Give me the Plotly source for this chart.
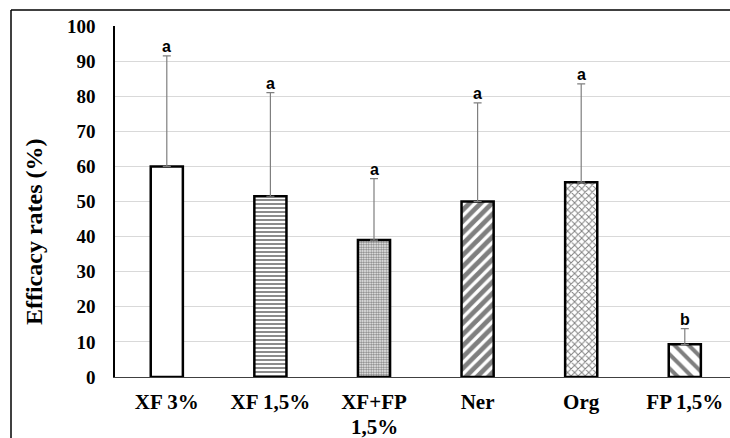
import plotly.graph_objects as go

categories = ["XF 3%", "XF 1,5%", "XF+FP 1,5%", "Ner", "Org", "FP 1,5%"]
tick_line1 = ["XF 3%", "XF 1,5%", "XF+FP", "Ner", "Org", "FP 1,5%"]
tick_line2 = ["", "", "1,5%", "", "", ""]
values = [60, 51.5, 39, 50, 55.5, 9.3]
error_plus = [31.5, 29.5, 17.5, 28.1, 28.0, 4.5]
letters = ["a", "a", "a", "a", "a", "b"]
y_ticks = [0, 10, 20, 30, 40, 50, 60, 70, 80, 90, 100]

pattern_shapes = ["", "-", ".", "/", "x", "\\"]
pattern_sizes = [8, 4, 2.5, 8, 5, 10]
pattern_solid = [0.2, 0.45, 0.55, 0.6, 0.35, 0.4]

x_pos = list(range(len(categories)))
SERIF = "Liberation Serif"

fig = go.Figure()
fig.add_trace(go.Bar(
    x=x_pos,
    y=values,
    width=0.31,
    name="Efficacy",
    hovertext=categories,
    marker=dict(
        color="white",
        line=dict(color="black", width=2.5),
        pattern=dict(shape=pattern_shapes, size=pattern_sizes, solidity=pattern_solid,
                     fgcolor="black", bgcolor="white", fillmode="overlay"),
    ),
    error_y=dict(type="data", array=error_plus, arrayminus=[0] * len(values), symmetric=False,
                 color="#7f7f7f", thickness=1.2, width=4),
    showlegend=False,
))

for xi, v, e, letter in zip(x_pos, values, error_plus, letters):
    fig.add_annotation(x=xi, y=v + e, text="<b>" + letter + "</b>", showarrow=False,
                       yanchor="bottom", yshift=-1,
                       font=dict(family="Liberation Sans", size=16, color="black"))

# second line of multi-line category labels
for xi, t in zip(x_pos, tick_line2):
    if t:
        fig.add_annotation(x=xi, xref="x", yref="paper", y=-0.1425, text="<b>" + t + "</b>",
                           showarrow=False, yanchor="middle",
                           font=dict(family=SERIF, size=21, color="black"))

fig.add_annotation(xref="paper", yref="paper", x=-0.1317, y=0.413, text="<b>Efficacy rates (%)</b>",
                   textangle=-90, showarrow=False, xanchor="center", yanchor="middle",
                   font=dict(family=SERIF, size=24, color="black"))

# outer frame (left and top edges)
fig.add_shape(type="line", xref="paper", yref="paper", x0=-0.1691, x1=-0.1691, y0=-0.3, y1=1.0456,
              line=dict(color="black", width=1.5))
fig.add_shape(type="line", xref="paper", yref="paper", x0=-0.1691, x1=1.1, y0=1.0456, y1=1.0456,
              line=dict(color="black", width=1.5))

fig.update_layout(
    width=730, height=438,
    margin=dict(l=115, r=0, t=26, b=61),
    plot_bgcolor="white", paper_bgcolor="white",
    font=dict(family=SERIF),
    xaxis=dict(
        tickmode="array", tickvals=x_pos, ticktext=["<b>" + c + "</b>" for c in tick_line1],
        range=[-0.5, -0.5 + 615 / 103.6],
        showline=True, linecolor="#404040", linewidth=1,
        showgrid=False, zeroline=False, automargin=False,
        ticks="outside", ticklen=6, tickcolor="rgba(0,0,0,0)",
        tickfont=dict(family=SERIF, size=21, color="black"),
    ),
    yaxis=dict(
        range=[0, 100], tickvals=y_ticks, ticktext=["<b>%d</b>" % t for t in y_ticks],
        showline=True, linecolor="black", linewidth=1.5,
        showgrid=True, gridcolor="#d9d9d9", gridwidth=1, zeroline=False, automargin=False,
        ticks="outside", ticklen=14, tickcolor="rgba(0,0,0,0)",
        tickfont=dict(family=SERIF, size=19, color="black"),
    ),
)

fig.write_html("out.html")
